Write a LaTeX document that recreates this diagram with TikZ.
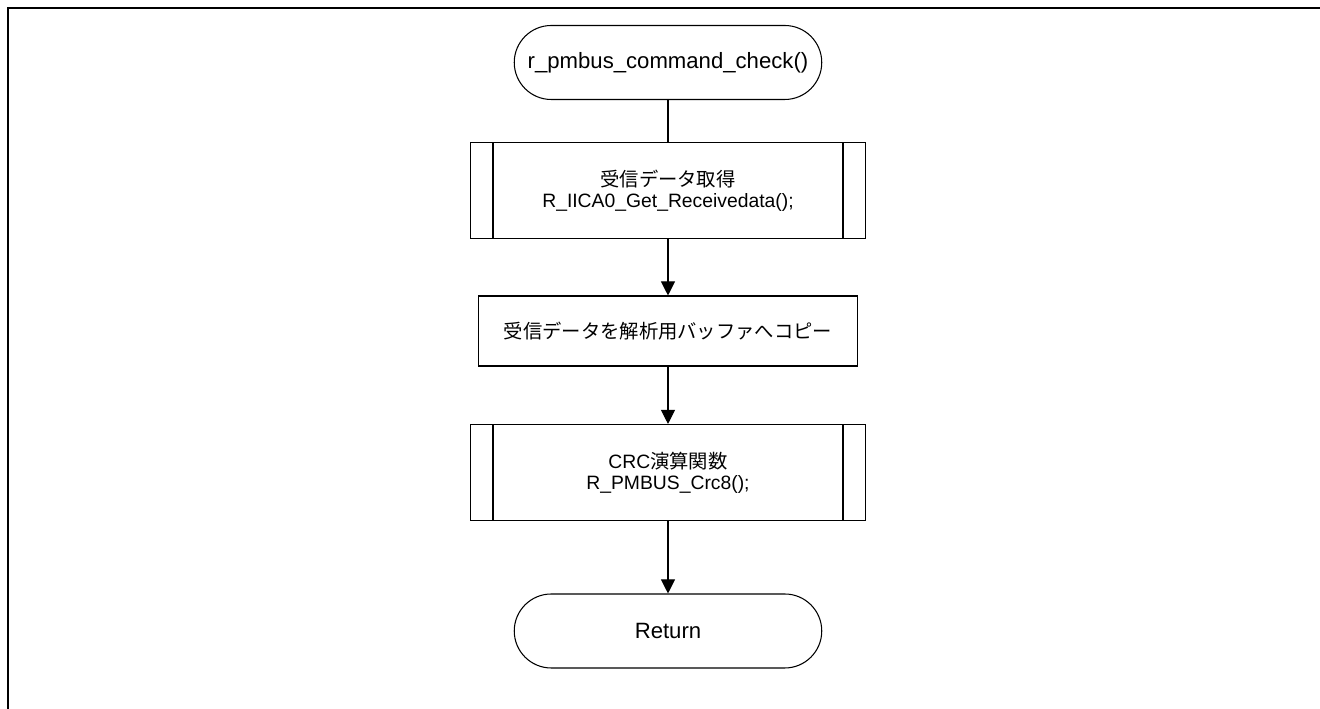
\documentclass[tikz,border=0pt]{standalone}
\usepackage{fontspec}
\setmainfont{Liberation Sans}
\newfontfamily\jp{Noto Sans CJK JP}
\usetikzlibrary{arrows.meta}
\tikzset{
  term/.style={draw, rounded corners=0.74cm, minimum width=6.15cm, minimum height=1.48cm, align=center, font=\fontsize{12.6}{13}\selectfont},
  proc/.style={draw, minimum width=7.58cm, minimum height=1.4cm, align=center},
  subproc/.style={draw, minimum width=7.9cm, minimum height=1.92cm, align=center,
    path picture={
      \draw ([xshift=0.45cm]path picture bounding box.north west) -- ([xshift=0.45cm]path picture bounding box.south west);
      \draw ([xshift=-0.45cm]path picture bounding box.north east) -- ([xshift=-0.45cm]path picture bounding box.south east);
    }},
  flow/.style={-{Triangle[length=8pt,width=8pt]}}
}

\begin{document}
\begin{tikzpicture}[line width=0.6pt, font=\fontsize{11}{12}\selectfont]
  \useasboundingbox (0,0) rectangle (26.4,14.18);
  % outer frame
  \draw[line width=1.4pt] (0.16,0) -- (0.16,14.02) -- (26.4,14.02);

  \node[term] (start) at (13.36,12.93) {r\_pmbus\_command\_check()};
  \node[subproc] (getdata) at (13.36,10.37) {{\jp 受信データ取得}\\R\_IICA0\_Get\_Receivedata();};
  \node[proc] (copybuf) at (13.36,7.56) {\jp 受信データを解析用バッファへコピー};
  \node[subproc] (crc) at (13.36,4.73) {CRC{\jp 演算関数}\\R\_PMBUS\_Crc8();};
  \node[term] (ret) at (13.36,1.56) {Return};

  \draw (start) -- (getdata);
  \draw[flow] (getdata) -- (copybuf);
  \draw[flow] (copybuf) -- (crc);
  \draw[flow] (crc) -- (ret);
\end{tikzpicture}
\end{document}
